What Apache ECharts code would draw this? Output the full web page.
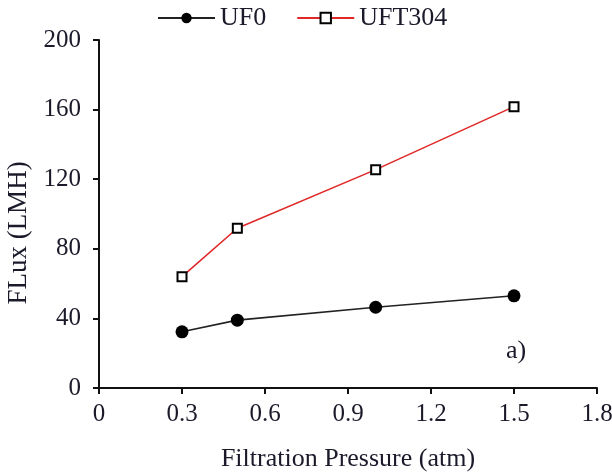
<!DOCTYPE html>
<html>
<head>
<meta charset="utf-8">
<script src="https://cdn.jsdelivr.net/npm/echarts@6/dist/echarts.min.js"></script>
<style>
  html, body { margin: 0; padding: 0; background: #fff; }
  #chart { width: 612px; height: 475px; }
</style>
</head>
<body>
<div id="chart"></div>
<script>
const pressure = [0.3, 0.5, 1.0, 1.5]
const uf0 = [32.3, 39, 46.4, 53]
const uft304 = [64, 91.8, 125.5, 161.7]

const font = '"Liberation Serif", "Times New Roman", serif'
const textColor = '#1a1a2a'

const chart = echarts.init(document.getElementById('chart'))
chart.setOption({
  animation: false,
  textStyle: { fontFamily: font, color: textColor },
  legend: {
    top: 0,
    left: 152,
    itemWidth: 57,
    itemHeight: 13,
    itemGap: 30,
    textStyle: { fontFamily: font, fontSize: 26, color: textColor },
    data: ['UF0', 'UFT304']
  },
  grid: { left: 99, right: 15, top: 40, bottom: 87, outerBoundsMode: 'none' },
  xAxis: {
    type: 'value',
    min: 0,
    max: 1.8,
    interval: 0.3,
    name: 'Filtration Pressure (atm)',
    nameLocation: 'middle',
    nameGap: 58,
    nameTextStyle: { fontFamily: font, fontSize: 26, color: textColor },
    axisLine: { lineStyle: { color: '#111', width: 2 } },
    axisTick: { inside: false, length: 6, lineStyle: { color: '#111', width: 2 } },
    axisLabel: {
      margin: 14, fontFamily: font, fontSize: 25, color: textColor,
      formatter: v => (v === 0 ? '0' : v.toFixed(1))
    },
    splitLine: { show: false }
  },
  yAxis: {
    type: 'value',
    min: 0,
    max: 200,
    interval: 40,
    name: 'FLux (LMH)',
    nameLocation: 'middle',
    nameGap: 58,
    nameTextStyle: { fontFamily: font, fontSize: 27, color: textColor, padding: [0, 38, 0, 0] },
    axisLine: { show: true, lineStyle: { color: '#111', width: 2 } },
    axisTick: { show: true, inside: false, length: 6, lineStyle: { color: '#111', width: 2 } },
    axisLabel: { margin: 18, fontFamily: font, fontSize: 25, color: textColor },
    splitLine: { show: false }
  },
  graphic: [{
    type: 'text',
    left: 506,
    top: 338,
    style: { text: 'a)', font: '26px ' + font, fill: textColor }
  }],
  series: [
    {
      name: 'UF0',
      type: 'line',
      data: pressure.map((x, i) => [x, uf0[i]]),
      symbol: 'circle',
      symbolSize: 13,
      lineStyle: { color: '#222', width: 1.6 },
      itemStyle: { color: '#000', borderColor: '#000', borderWidth: 0 }
    },
    {
      name: 'UFT304',
      type: 'line',
      data: pressure.map((x, i) => [x, uft304[i]]),
      symbol: 'rect',
      symbolSize: 9,
      lineStyle: { color: '#e02828', width: 1.6 },
      itemStyle: { color: '#fff', borderColor: '#000', borderWidth: 2 }
    }
  ]
})
</script>
</body>
</html>
